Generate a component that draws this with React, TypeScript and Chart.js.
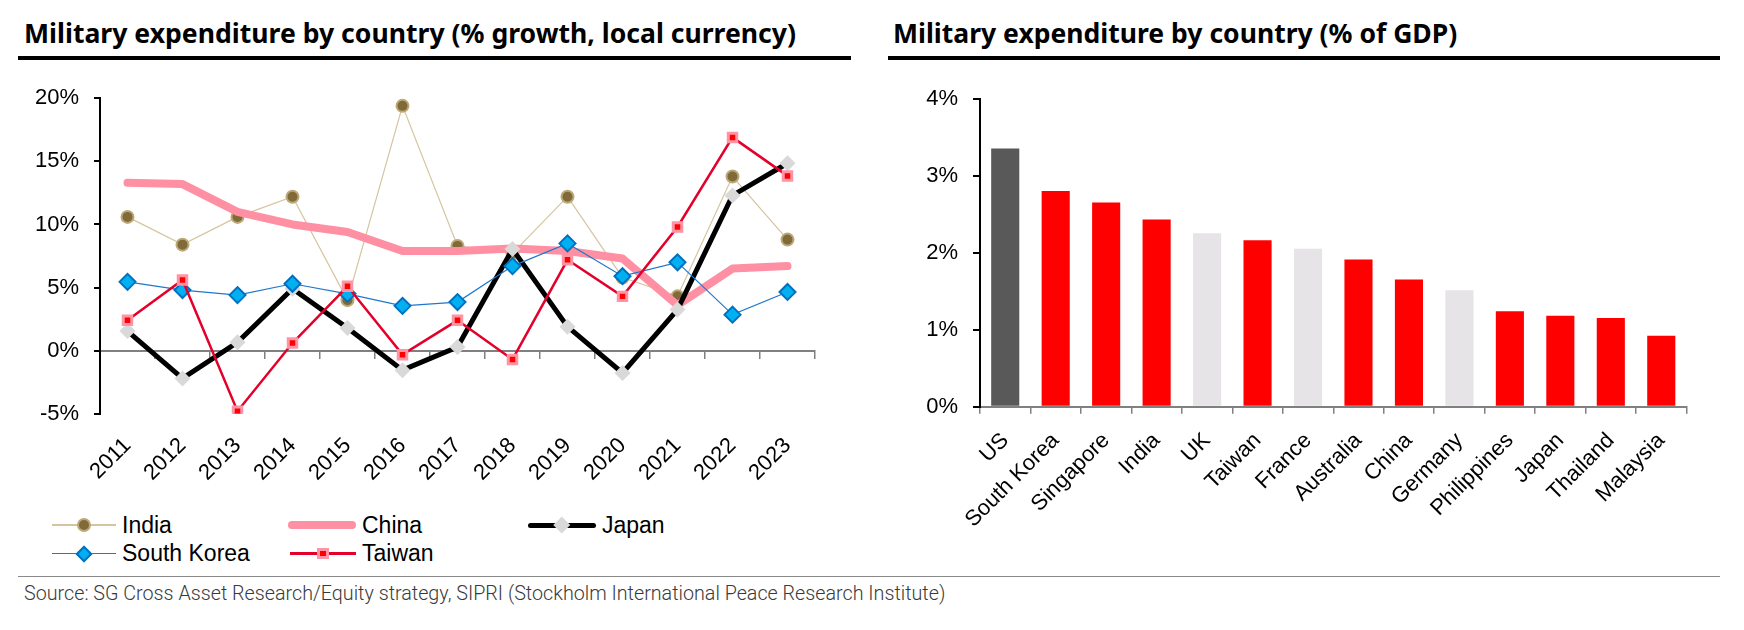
import React, { useEffect, useLayoutEffect, useRef, useState } from 'react';
import { Chart, registerables } from 'chart.js';

Chart.register(...registerables);

// ---- data: left panel (% growth, local currency) ----
const YEARS = ['2011', '2012', '2013', '2014', '2015', '2016', '2017', '2018', '2019', '2020', '2021', '2022', '2023'];
const INDIA = [10.6, 8.4, 10.6, 12.2, 4.0, 19.4, 8.3, 7.7, 12.2, 5.8, 4.3, 13.8, 8.8];
const CHINA = [13.3, 13.2, 11.0, 10.0, 9.4, 7.9, 7.9, 8.1, 7.9, 7.3, 3.6, 6.5, 6.7];
const JAPAN = [1.55, -2.2, 0.66, 4.9, 1.8, -1.55, 0.28, 8.05, 1.9, -1.77, 3.25, 12.3, 14.85];
const SOUTH_KOREA = [5.45, 4.8, 4.4, 5.3, 4.5, 3.55, 3.85, 6.7, 8.5, 5.9, 7.0, 2.85, 4.65];
const TAIWAN = [2.4, 5.6, -4.8, 0.6, 5.1, -0.32, 2.4, -0.7, 7.2, 4.3, 9.8, 16.9, 13.85];
const GROWTH_TICKS = { min: -5, max: 20, step: 5 };

// ---- data: right panel (% of GDP) ----
const COUNTRIES = ['US', 'South Korea', 'Singapore', 'India', 'UK', 'Taiwan', 'France', 'Australia', 'China', 'Germany', 'Philippines', 'Japan', 'Thailand', 'Malaysia'];
const GDP_SHARE = [3.35, 2.8, 2.65, 2.43, 2.25, 2.16, 2.05, 1.91, 1.65, 1.51, 1.24, 1.18, 1.15, 0.92];
const REGION = ['US', 'APAC', 'APAC', 'APAC', 'Europe', 'APAC', 'Europe', 'APAC', 'APAC', 'Europe', 'APAC', 'APAC', 'APAC', 'APAC'];
const GDP_TICKS = { min: 0, max: 4, step: 1 };

const REGION_COLOR: Record<string, string> = { US: '#595959', APAC: '#FF0000', Europe: '#E6E4E6' };

const AXIS_FONT = { family: "'Liberation Sans', Arial, sans-serif", size: 22 };
const pct = (v: number | string) => `${v}%`;

// text squeezed to the width it takes in the original
function FitText({ text, width, style }: { text: string; width: number; style: React.CSSProperties }) {
  const ref = useRef<HTMLSpanElement>(null);
  const [scale, setScale] = useState(1);
  useLayoutEffect(() => {
    const measure = () => {
      if (ref.current && ref.current.offsetWidth) setScale(width / ref.current.offsetWidth);
    };
    measure();
    document.fonts?.ready.then(measure);
  }, [text, width]);
  return (
    <span
      ref={ref}
      style={{ ...style, display: 'inline-block', whiteSpace: 'nowrap', transform: `scaleX(${scale})`, transformOrigin: 'left top' }}
    >
      {text}
    </span>
  );
}

function GrowthChart() {
  const canvasRef = useRef<HTMLCanvasElement>(null);

  useEffect(() => {
    if (!canvasRef.current) return;
    const chart = new Chart(canvasRef.current, {
      type: 'line',
      data: {
        labels: YEARS,
        datasets: [
          {
            label: 'India',
            data: INDIA,
            order: 5,
            borderColor: '#D6C49F',
            borderWidth: 1.2,
            pointStyle: 'circle',
            pointRadius: 6,
            pointBackgroundColor: '#806A38',
            pointBorderColor: '#BCA878',
            pointBorderWidth: 2
          },
          {
            label: 'China',
            data: CHINA,
            order: 4,
            borderColor: '#FF8FA2',
            borderWidth: 8,
            borderCapStyle: 'round',
            borderJoinStyle: 'round',
            pointRadius: 0
          },
          {
            label: 'Japan',
            data: JAPAN,
            order: 3,
            borderColor: '#000000',
            borderWidth: 5,
            pointStyle: 'rectRot',
            pointRadius: 8,
            pointBackgroundColor: '#D9D9D9',
            pointBorderColor: '#D9D9D9',
            pointBorderWidth: 0
          },
          {
            label: 'South Korea',
            data: SOUTH_KOREA,
            order: 2,
            borderColor: '#1F78CC',
            borderWidth: 1.2,
            pointStyle: 'rectRot',
            pointRadius: 8,
            pointBackgroundColor: '#00B0F0',
            pointBorderColor: '#0070C0',
            pointBorderWidth: 2
          },
          {
            label: 'Taiwan',
            data: TAIWAN,
            order: 1,
            borderColor: '#E4002B',
            borderWidth: 2.5,
            pointStyle: 'rect',
            pointRadius: 6,
            pointBackgroundColor: '#FF0000',
            pointBorderColor: '#FF94A6',
            pointBorderWidth: 3
          }
        ]
      },
      options: {
        responsive: false,
        animation: false,
        layout: { padding: { top: 28.3, right: 25, left: 0, bottom: 0 } },
        plugins: { legend: { display: false }, tooltip: { enabled: false } },
        elements: { line: { tension: 0 } },
        scales: {
          // labels only, below the plot
          x: {
            type: 'category',
            position: 'bottom',
            offset: true,
            grid: { display: false, drawTicks: false },
            border: { display: false },
            ticks: { font: AXIS_FONT, color: '#000', minRotation: 45, maxRotation: 45, autoSkip: false, padding: 19 },
            afterFit: (s) => {
              s.height = 76.3;
            }
          },
          // the visible axis line at 0%
          x0: {
            type: 'category',
            axis: 'x',
            position: { y: 0 },
            offset: true,
            grid: { offset: true, drawOnChartArea: false, tickLength: 7, color: '#808080', lineWidth: 1.5 },
            border: { color: '#808080', width: 2 },
            ticks: { display: false }
          },
          y: {
            min: GROWTH_TICKS.min,
            max: GROWTH_TICKS.max,
            ticks: { stepSize: GROWTH_TICKS.step, callback: pct, font: AXIS_FONT, color: '#000', padding: 15 },
            grid: { drawOnChartArea: false, tickLength: 6, color: '#000', lineWidth: 2 },
            border: { color: '#000', width: 2 },
            afterFit: (s) => {
              s.width = 100;
            }
          }
        }
      }
    });
    return () => chart.destroy();
  }, []);

  return <canvas ref={canvasRef} width={840} height={420} style={{ position: 'absolute', left: 0, top: 70, width: 840, height: 420 }} />;
}

function GdpChart() {
  const canvasRef = useRef<HTMLCanvasElement>(null);

  useEffect(() => {
    if (!canvasRef.current) return;
    const chart = new Chart(canvasRef.current, {
      type: 'bar',
      data: {
        labels: COUNTRIES,
        datasets: [
          {
            label: '% of GDP',
            data: GDP_SHARE,
            backgroundColor: REGION.map((r) => REGION_COLOR[r]),
            categoryPercentage: 1,
            barPercentage: 0.557
          }
        ]
      },
      options: {
        responsive: false,
        animation: false,
        layout: { padding: { top: 28.5, right: 57.5, left: 0, bottom: 0 } },
        plugins: { legend: { display: false }, tooltip: { enabled: false } },
        scales: {
          x: {
            grid: { offset: true, drawOnChartArea: false, tickLength: 7, color: '#808080', lineWidth: 1.5 },
            border: { color: '#808080', width: 2 },
            ticks: { font: AXIS_FONT, color: '#000', minRotation: 45, maxRotation: 45, autoSkip: false, padding: 14 },
            afterFit: (s) => {
              s.height = 153.3;
            }
          },
          y: {
            min: GDP_TICKS.min,
            max: GDP_TICKS.max,
            ticks: { stepSize: GDP_TICKS.step, callback: pct, font: AXIS_FONT, color: '#000', padding: 15 },
            grid: { drawOnChartArea: false, tickLength: 7, color: '#000', lineWidth: 2 },
            border: { color: '#000', width: 2 },
            afterFit: (s) => {
              s.width = 120;
            }
          }
        }
      }
    });
    return () => chart.destroy();
  }, []);

  return <canvas ref={canvasRef} width={884} height={490} style={{ position: 'absolute', left: 860, top: 70, width: 884, height: 490 }} />;
}

type MarkerKind = 'circle' | 'diamondBlue' | 'diamondGray' | 'square' | 'none';

function Marker({ kind }: { kind: MarkerKind }) {
  const base: React.CSSProperties = { position: 'absolute', left: '50%', top: '50%', boxSizing: 'border-box' };
  if (kind === 'circle')
    return <div style={{ ...base, width: 14, height: 14, marginLeft: -7, marginTop: -7, borderRadius: '50%', background: '#806A38', border: '2px solid #BCA878' }} />;
  if (kind === 'diamondBlue')
    return <div style={{ ...base, width: 12, height: 12, marginLeft: -6, marginTop: -6, transform: 'rotate(45deg)', background: '#00B0F0', border: '2px solid #0070C0' }} />;
  if (kind === 'diamondGray')
    return <div style={{ ...base, width: 11.5, height: 11.5, marginLeft: -5.75, marginTop: -5.75, transform: 'rotate(45deg)', background: '#D9D9D9' }} />;
  if (kind === 'square')
    return <div style={{ ...base, width: 11.5, height: 11.5, marginLeft: -5.75, marginTop: -5.75, background: '#FF0000', border: '3px solid #FF94A6' }} />;
  return null;
}

function LegendEntry(props: { x: number; y: number; len: number; color: string; thick: number; round?: boolean; kind: MarkerKind; label: string }) {
  const { x, y, len, color, thick, round, kind, label } = props;
  return (
    <>
      <div style={{ position: 'absolute', left: x, top: y - 10, width: len, height: 20 }}>
        <div
          style={{
            position: 'absolute',
            left: 0,
            right: 0,
            top: 10 - thick / 2,
            height: thick,
            background: color,
            borderRadius: round ? thick / 2 : 0
          }}
        />
        <Marker kind={kind} />
      </div>
      <div
        style={{
          position: 'absolute',
          left: x + len + 6,
          top: y - 11.5,
          fontFamily: "'Liberation Sans', Arial, sans-serif",
          fontSize: 23,
          lineHeight: '23px',
          color: '#000',
          whiteSpace: 'nowrap'
        }}
      >
        {label}
      </div>
    </>
  );
}

const TITLE_STYLE: React.CSSProperties = {
  fontFamily: "'Noto Sans', sans-serif",
  fontWeight: 700,
  fontSize: 27,
  lineHeight: '27px',
  color: '#000'
};

export default function App() {
  return (
    <div style={{ position: 'absolute', left: 0, top: 0, width: 1744, height: 630, background: '#fff', overflow: 'hidden' }}>
      <div style={{ position: 'absolute', left: 24, top: 18.7 }}>
        <FitText text="Military expenditure by country (% growth, local currency)" width={772} style={TITLE_STYLE} />
      </div>
      <div style={{ position: 'absolute', left: 18, top: 56, width: 833, height: 4, background: '#000' }} />

      <div style={{ position: 'absolute', left: 893, top: 18.7 }}>
        <FitText text="Military expenditure by country (% of GDP)" width={564} style={TITLE_STYLE} />
      </div>
      <div style={{ position: 'absolute', left: 888, top: 56, width: 832, height: 4, background: '#000' }} />

      <GrowthChart />
      <GdpChart />

      <LegendEntry x={52} y={525} len={64} color="#D6C49F" thick={1.5} kind="circle" label="India" />
      <LegendEntry x={288} y={525} len={68} color="#FF8FA2" thick={8} round kind="none" label="China" />
      <LegendEntry x={528} y={525} len={68} color="#000" thick={5} round kind="diamondGray" label="Japan" />
      <LegendEntry x={52} y={553.5} len={64} color="#1F78CC" thick={1.5} kind="diamondBlue" label="South Korea" />
      <LegendEntry x={290} y={553.5} len={66} color="#E4002B" thick={2.5} kind="square" label="Taiwan" />

      <div style={{ position: 'absolute', left: 18, top: 576, width: 1702, height: 1.2, background: '#8A8A8A' }} />
      <div style={{ position: 'absolute', left: 24, top: 583.3 }}>
        <FitText
          text="Source: SG Cross Asset Research/Equity strategy, SIPRI (Stockholm International Peace Research Institute)"
          width={921}
          style={{ fontFamily: 'Roboto, sans-serif', fontWeight: 300, fontSize: 21, lineHeight: '21px', color: '#3A3A3A' }}
        />
      </div>
    </div>
  );
}
